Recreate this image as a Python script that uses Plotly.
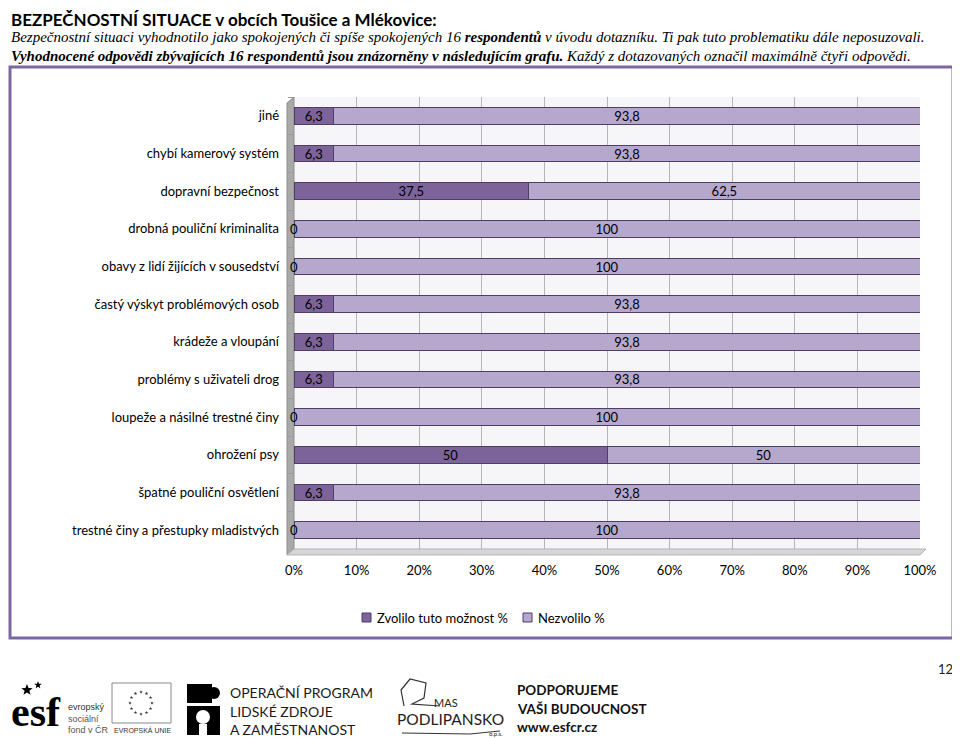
import math
import plotly.graph_objects as go

categories = [
    "jiné",
    "chybí kamerový systém",
    "dopravní bezpečnost",
    "drobná pouliční kriminalita",
    "obavy z lidí žijících v sousedství",
    "častý výskyt problémových osob",
    "krádeže a vloupání",
    "problémy s uživateli drog",
    "loupeže a násilné trestné činy",
    "ohrožení psy",
    "špatné pouliční osvětlení",
    "trestné činy a přestupky mladistvých",
]
zvolilo = [6.3, 6.3, 37.5, 0, 0, 6.3, 6.3, 6.3, 0, 50, 6.3, 0]
nezvolilo = [93.8, 93.8, 62.5, 100, 100, 93.8, 93.8, 93.8, 100, 50, 93.8, 100]
x_ticks = [0, 10, 20, 30, 40, 50, 60, 70, 80, 90, 100]
x_tick_labels = [f"{v}%" for v in x_ticks]
series_names = ["Zvolilo tuto možnost %", "Nezvolilo %"]

DARK = "#7c6399"
LIGHT = "#b6a7cd"
EDGE = "#4d3d69"
FONT = "Lato"

# the html body has an 8px margin -> figure drawn 8px smaller, coordinates in screen px
OFF = 8
W_, H_ = 960 - OFF, 738 - OFF
L, R, T, B = 294, 920, 97, 549
PW, PH = R - L, B - T
EDGE_X = 9  # leftmost visible screen x


def px(x):
    return (x - L) / PW


def py(y):
    return (B - y) / PH


def fmt(v):
    if abs(v - round(v)) < 1e-9:
        return str(int(round(v)))
    return f"{v:.1f}".replace(".", ",")


fig = go.Figure()
for name, vals, col, hide0 in [(series_names[0], zvolilo, DARK, True),
                               (series_names[1], nezvolilo, LIGHT, False)]:
    fig.add_trace(go.Bar(
        y=categories, x=vals, orientation="h", name=name,
        marker=dict(color=col, line=dict(color=EDGE, width=1)),
        text=[("" if (hide0 and v == 0) else fmt(v)) for v in vals],
        textposition="inside", insidetextanchor="middle", textangle=0,
        textfont=dict(family=FONT, size=13, color="black"),
        constraintext="none", hoverinfo="skip", showlegend=False,
    ))

annotations = []
for c, v in zip(categories, zvolilo):
    if v == 0:
        annotations.append(dict(x=0, y=c, xref="x", yref="y", text="0",
                                showarrow=False, xanchor="center",
                                font=dict(family=FONT, size=13, color="black")))


def txt(x, y, text, size, anchor="left", color="black", family=FONT):
    annotations.append(dict(
        x=px(x), y=py(y), xref="paper", yref="paper", text=text,
        showarrow=False, xanchor=anchor, yanchor="middle",
        font=dict(family=family, size=size, color=color)))


def path(points, close=True):
    s = "M " + " L ".join(f"{px(a):.5f},{py(b):.5f}" for a, b in points)
    return s + (" Z" if close else "")


def star(cx, cy, r):
    pts = []
    for k in range(10):
        a = -math.pi / 2 + k * math.pi / 5
        rr = r if k % 2 == 0 else r * 0.42
        pts.append((cx + rr * math.cos(a), cy + rr * math.sin(a)))
    return path(pts)


shapes = []

# legend (drawn manually)
leg = [(362, 375, series_names[0], DARK), (523, 536, series_names[1], LIGHT)]
for sx, tx, name, col in leg:
    shapes.append(dict(type="rect", xref="paper", yref="paper", x0=px(sx), x1=px(sx + 9),
                       y0=py(613), y1=py(622), fillcolor=col, line=dict(color=EDGE, width=1)))
    txt(tx, 618, name, 13)

# header
txt(EDGE_X, 19, "<b>BEZPEČNOSTNÍ SITUACE v obcích Toušice a Mlékovice:</b>", 17)
txt(EDGE_X, 37, "<i>Bezpečnostní situaci vyhodnotilo jako spokojených či spíše spokojených 16 "
                "<b>respondentů</b> v úvodu dotazníku. Ti pak tuto problematiku dále neposuzovali.</i>",
    15, family="Liberation Sans Narrow")
txt(EDGE_X, 56, "<i><b>Vyhodnocené odpovědi zbývajících 16 respondentů jsou znázorněny v následujícím grafu.</b> "
                "Každý z dotazovaných označil maximálně čtyři odpovědi.</i>",
    15, family="Liberation Sans Narrow")

# footer
txt(945, 669, "12", 13, anchor="center", color="#222")
txt(EDGE_X, 712, "<b>esf</b>", 42, family="Liberation Sans Narrow")
shapes.append(dict(type="path", xref="paper", yref="paper", path=star(27, 690, 6),
                   fillcolor="black", line=dict(width=0)))
shapes.append(dict(type="path", xref="paper", yref="paper", path=star(38, 685, 4),
                   fillcolor="black", line=dict(width=0)))
txt(66, 707, "evropský", 9, color="#333", family="Liberation Sans")
txt(66, 719, "sociální", 9, color="#555", family="Liberation Sans")
txt(66, 730, "fond v ČR", 9, color="#555", family="Liberation Sans")
txt(112, 730, "EVROPSKÁ UNIE", 7, color="#333", family="Liberation Sans")
shapes.append(dict(type="rect", xref="paper", yref="paper", x0=px(112), x1=px(171),
                   y0=py(683), y1=py(723), line=dict(color="#888", width=1)))
for k in range(12):
    a = 2 * math.pi * k / 12
    shapes.append(dict(type="path", xref="paper", yref="paper",
                       path=star(141 + 11 * math.cos(a), 703 + 11 * math.sin(a), 1.8),
                       fillcolor="#333", line=dict(width=0)))
# puzzle person icon
shapes += [
    dict(type="rect", xref="paper", yref="paper", x0=px(187), x1=px(212), y0=py(684), y1=py(703),
         fillcolor="black", line=dict(width=0)),
    dict(type="circle", xref="paper", yref="paper", x0=px(208), x1=px(220), y0=py(687), y1=py(699),
         fillcolor="black", line=dict(width=0)),
    dict(type="rect", xref="paper", yref="paper", x0=px(187), x1=px(220), y0=py(706), y1=py(735),
         fillcolor="black", line=dict(width=0)),
    dict(type="circle", xref="paper", yref="paper", x0=px(196), x1=px(210), y0=py(710), y1=py(724),
         fillcolor="white", line=dict(width=0)),
    dict(type="rect", xref="paper", yref="paper", x0=px(199), x1=px(207), y0=py(724), y1=py(735),
         fillcolor="white", line=dict(width=0)),
]
txt(228, 692, "OPERAČNÍ PROGRAM", 14, color="#1a1a1a")
txt(228, 711, "LIDSKÉ ZDROJE", 14, color="#1a1a1a")
txt(228, 729, "A ZAMĚSTNANOST", 14, color="#1a1a1a")
# MAS logo
shapes.append(dict(type="path", xref="paper", yref="paper",
                   path=path([(404, 706), (401, 690), (410, 679), (426, 683), (424, 698),
                              (412, 704), (440, 706)], close=False),
                   line=dict(color="#333", width=1.2)))
shapes.append(dict(type="path", xref="paper", yref="paper",
                   path=path([(402, 733), (470, 734), (500, 731)], close=False),
                   line=dict(color="#333", width=1)))
txt(432, 702, "MAS", 11, color="#222")
txt(450, 719, "PODLIPANSKO", 15.5, anchor="center", color="#222")
txt(487, 733, "o.p.s.", 6, color="#222")
txt(515, 690, "<b>PODPORUJEME</b>", 13.5, color="#111")
txt(515, 709, "<b>VAŠI BUDOUCNOST</b>", 13.5, color="#111")
txt(515, 727, "<b>www.esfcr.cz</b>", 13.5, color="#111")

shapes += [
    # chart frame
    dict(type="rect", xref="paper", yref="paper", x0=px(EDGE_X + 1), x1=px(953), y0=py(67), y1=py(638),
         line=dict(color="#7b68a0", width=3), layer="below"),
    # 3D wall
    dict(type="path", xref="paper", yref="paper",
         path=path([(287, 103), (294, 97), (294, 549), (287, 555)]),
         fillcolor="#a9a9a9", line=dict(color="#8c8c8c", width=1), layer="below"),
    # floor
    dict(type="path", xref="paper", yref="paper",
         path=path([(287, 555), (920, 555), (926, 549), (294, 549)]),
         fillcolor="#d6d6d6", line=dict(color="#b5b5b5", width=1), layer="below"),
]

fig.update_layout(
    width=W_, height=H_,
    margin=dict(l=L - OFF, r=W_ - (R - OFF), t=T - OFF, b=H_ - (B - OFF), pad=0),
    paper_bgcolor="white", plot_bgcolor="#f6f6f9",
    barmode="stack", bargap=0.55,
    showlegend=False,
    font=dict(family=FONT, size=13, color="black"),
    annotations=annotations, shapes=shapes,
)
fig.update_xaxes(range=[0, 100], tickvals=x_ticks, ticktext=x_tick_labels,
                 showgrid=True, gridcolor="#b5b5b5", gridwidth=1,
                 zeroline=False, showline=False, ticks="", ticklabelstandoff=12,
                 tickfont=dict(family=FONT, size=13, color="black"), fixedrange=True)
fig.update_yaxes(autorange="reversed", showgrid=False, zeroline=False, showline=False,
                 ticks="outside", tickson="boundaries", ticklen=5, tickcolor="#999",
                 ticklabelstandoff=14,
                 tickfont=dict(family=FONT, size=13, color="black"), fixedrange=True)

fig.write_html("out.html")
